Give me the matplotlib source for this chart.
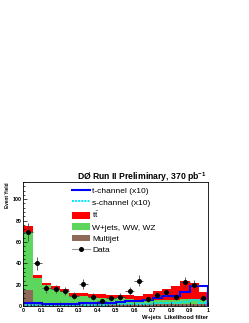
import numpy as np
import matplotlib
matplotlib.use("Agg")
import matplotlib.pyplot as plt
from matplotlib.lines import Line2D
from matplotlib.patches import Patch
from matplotlib.ticker import MultipleLocator, FixedLocator, FixedFormatter

plt.rcParams['font.family'] = ['Liberation Sans', 'DejaVu Sans']
plt.rcParams['mathtext.fontset'] = 'custom'
plt.rcParams['mathtext.rm'] = 'Liberation Sans'
plt.rcParams['mathtext.bf'] = 'Liberation Sans:bold'

# ---- data ----
bin_edges = np.linspace(0.0, 1.0, 21)
multijet = [15, 2, 1.8, 1.8, 1.8, 1.8, 1.8, 1.8, 1.8, 1.8,
            1.8, 1.8, 1.8, 1.8, 1.8, 1.8, 1.8, 1.8, 1.8, 1.8]
wjets = [54, 24.8, 17.7, 14.7, 12, 7.8, 7.5, 6.7, 6.2, 5.7,
         5.6, 5.2, 4.2, 4.2, 4.2, 4.2, 4.4, 4.7, 5.2, 3.8]
ttbar = [5.5, 2.2, 2.5, 2.3, 2.4, 2.8, 2.7, 3.0, 3.2, 3.5,
         3.1, 3.5, 3.6, 5.2, 8.0, 10.4, 12.3, 17.5, 15.0, 7.7]
tchannel_x10 = [3.5, 3.0, 2.5, 2.5, 2.5, 2.5, 2.7, 2.8, 3.0, 3.5,
                4.0, 4.5, 4.5, 6.0, 8.0, 9.3, 10.0, 13.0, 19.0, 19.0]
schannel_x10 = [1.2, 1.2, 1.2, 1.2, 1.3, 1.3, 1.4, 1.5, 1.6, 1.8,
                1.9, 2.0, 2.2, 2.5, 2.8, 3.0, 3.2, 4.0, 5.8, 3.0]
data = [69, 40, 17, 16, 14, 10, 21, 9, 5, 8,
        9, 14, 24, 7, 11, 13, 9, 23, 20, 8]
xtick_vals = [0, 0.1, 0.2, 0.3, 0.4, 0.5, 0.6, 0.7, 0.8, 0.9, 1.0]
xtick_labels = ["0", "0.1", "0.2", "0.3", "0.4", "0.5", "0.6", "0.7", "0.8", "0.9", "1"]
ytick_vals = [0, 20, 40, 60, 80, 100]

c_red = '#ff0000'
c_green = '#5cd65c'
c_brown = '#8f6a58'
c_blue = '#0000ff'
c_cyan = '#00e5ff'

W, H = 249, 323
fig = plt.figure(figsize=(W / 100, H / 100), dpi=100)
ax = fig.add_axes([23.3 / W, 1 - 306.3 / H, 184.7 / W, 124.3 / H])

edges = np.asarray(bin_edges)
left = edges[:-1]
width = np.diff(edges)
mj = np.asarray(multijet)
wj = np.asarray(wjets)
tt = np.asarray(ttbar)

ax.bar(left, mj, width=width, align='edge', color=c_brown, linewidth=0)
ax.bar(left, wj, width=width, bottom=mj, align='edge', color=c_green, linewidth=0)
ax.bar(left, tt, width=width, bottom=mj + wj, align='edge', color=c_red, linewidth=0)

ax.stairs(schannel_x10, edges, color=c_cyan, lw=1.4, linestyle=(0, (1, 0.6)))
ax.stairs(tchannel_x10, edges, color=c_blue, lw=1.5)

centers = 0.5 * (edges[:-1] + edges[1:])
d = np.asarray(data, dtype=float)
ax.errorbar(centers, d, yerr=np.sqrt(d), xerr=width / 2, fmt='o', color='black',
            ms=2.6, ecolor='#444444', elinewidth=0.6, capsize=0, zorder=5)

ax.set_xlim(0, 1)
ax.set_ylim(0, 116)

ax.xaxis.set_major_locator(FixedLocator(xtick_vals))
ax.xaxis.set_major_formatter(FixedFormatter(xtick_labels))
ax.xaxis.set_minor_locator(MultipleLocator(0.02))
ax.yaxis.set_major_locator(FixedLocator(ytick_vals))
ax.yaxis.set_minor_locator(MultipleLocator(4))
ax.tick_params(which='both', direction='in', top=False, right=False, width=0.5)
ax.tick_params(which='major', length=3, labelsize=3.8, pad=1.2)
ax.tick_params(which='minor', length=1.5)
for lab in ax.get_xticklabels() + ax.get_yticklabels():
    lab.set_fontweight('bold')
for s in ax.spines.values():
    s.set_linewidth(0.6)

ax.set_xlabel("W+jets  Likelihood filter", fontsize=4.2, fontweight='bold',
              loc='right', labelpad=1.5)
ax.set_ylabel("Event Yield", fontsize=3.4, fontweight='bold', loc='top', labelpad=2)

fig.text(207 / W, 1 - 179.5 / H, r"DØ Run II Preliminary, 370 pb$^{\mathbf{-1}}$",
         fontsize=6.2, fontweight='bold', ha='right', va='baseline')

handles = [
    Line2D([0], [0], color=c_blue, lw=1.5),
    Line2D([0], [0], color=c_cyan, lw=1.4, linestyle=(0, (1, 0.6))),
    Patch(facecolor=c_red, edgecolor='none'),
    Patch(facecolor=c_green, edgecolor='none'),
    Patch(facecolor=c_brown, edgecolor='none'),
    Line2D([0], [0], color='#999999', lw=0.8, marker='o', ms=2.6,
           markerfacecolor='black', markeredgecolor='black'),
]
labels = ["t-channel (x10)", "s-channel (x10)", r"$\mathrm{t\bar{t}}$",
          "W+jets, WW, WZ", "Multijet", "Data"]
ax.legend(handles, labels, loc='upper left', bbox_to_anchor=(0.266, 0.96),
          frameon=False, fontsize=6, handlelength=2.05, handleheight=0.85,
          handletextpad=0.35, labelspacing=0.38, borderpad=0, borderaxespad=0)

fig.savefig("out.png", dpi=100)
